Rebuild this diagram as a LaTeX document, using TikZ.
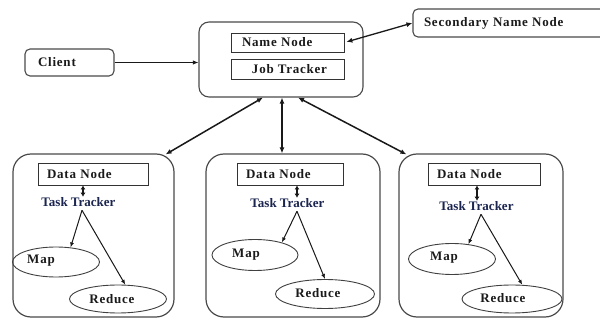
\documentclass[tikz,border=0pt]{standalone}
\usepackage{fontspec}
\setmainfont{Liberation Serif}
\newfontfamily\lblfont[LetterSpace=6]{Liberation Serif}
\usetikzlibrary{shapes.geometric,arrows.meta,calc}
\definecolor{txt}{HTML}{1A1A1A}
\definecolor{navy}{HTML}{1B2550}
\definecolor{edge}{HTML}{4A4A4A}
\begin{document}
\begin{tikzpicture}[x=1pt,y=-1pt,
  font={\lblfont\bfseries\fontsize{13pt}{15pt}\selectfont},
  text=txt,
  outerbox/.style={draw=edge, line width=1.1pt, rounded corners=10pt},
  smallbox/.style={draw=edge, line width=1.1pt, rounded corners=5pt, align=left, inner ysep=0pt},
  bigbox/.style={draw=edge, line width=1.2pt, rounded corners=18pt, minimum height=163pt},
  inbox/.style={draw=black!80, line width=0.9pt, inner ysep=0pt},
  ell/.style={ellipse, draw=black!75, line width=0.9pt, inner sep=0pt},
  tracker/.style={text=navy, inner sep=0.5pt, font={\rmfamily\bfseries\fontsize{13pt}{15pt}\selectfont}},
  bigarr/.style={{Latex[length=6pt,width=5pt]}-{Latex[length=6pt,width=5pt]}, line width=1.5pt, draw=black!90},
  onearr/.style={-{Latex[length=5.5pt,width=4.5pt]}, line width=1.4pt, draw=black!90},
  smallarr/.style={-{Latex[length=5pt,width=4pt]}, line width=1pt, draw=black!90},
  dblsmall/.style={{Latex[length=4pt,width=5pt]}-{Latex[length=4pt,width=5pt]}, line width=1.2pt, draw=black!90}
]
\fill[white] (0,0) rectangle (600,320);
\useasboundingbox (0,0) rectangle (600,320);

% top part
\node[outerbox, minimum width=164pt, minimum height=75pt] (main) at (281,59.5) {};
\node[inbox, minimum width=113pt, minimum height=19pt, text width=91pt, inner xsep=11pt, align=left] (nn) at (287.5,42.5) {Name Node};
\node[inbox, minimum width=113pt, minimum height=20pt, inner xsep=0pt] (jt) at (287.5,69) {\hspace*{4pt}Job Tracker};
\node[smallbox, text width=63pt, inner xsep=13pt, minimum height=27pt] (client) at (69.5,62.5) {Client};
\node[smallbox, text width=185pt, inner xsep=11pt, minimum height=28pt] (sec) at (516.5,23) {Secondary Name Node};

\draw[onearr] (client.east) -- (client.east -| main.west);
\draw[bigarr, line width=1.3pt, shorten <=2pt] (nn.east) -- (sec.west);

% bottom boxes
\node[bigbox, minimum width=161pt] (lb) at (93.5,235.5) {};
\node[bigbox, minimum width=174pt] (mb) at (293,235.5) {};
\node[bigbox, minimum width=164pt] (rb) at (481,235.5) {};

\coordinate (m1) at ($(main.south)+(-18,0)$);
\coordinate (e1) at ($(lb.north east)+(-9,1)$);
\coordinate (m2) at ($(main.south)+(1,0)$);
\coordinate (m3) at ($(main.south)+(17,0)$);
\coordinate (e3) at ($(rb.north west)+(8,1)$);
\draw[bigarr] (m1) -- (e1);
\draw[bigarr] (m2) -- (m2 |- mb.north);
\draw[bigarr] (m3) -- (e3);

% data nodes
\node[inbox, minimum width=110pt, minimum height=22pt, text width=92pt, inner xsep=9pt, align=left] (dn1) at (93,174) {Data Node};
\node[inbox, minimum width=106pt, minimum height=22pt, text width=88pt, inner xsep=9pt, align=left] (dn2) at (290,174) {Data Node};
\node[inbox, minimum width=112pt, minimum height=22pt, text width=94pt, inner xsep=9pt, align=left] (dn3) at (484,174) {Data Node};

% task trackers
\node[tracker] (tt1) at (78.5,202) {Task Tracker};
\node[tracker] (tt2) at (287.5,203) {Task Tracker};
\node[tracker] (tt3) at (476.5,206) {Task Tracker};

\coordinate (a1) at ($(tt1.north)+(4.5,0)$);
\coordinate (a2) at ($(tt2.north)+(9.5,0)$);
\coordinate (a3) at ($(tt3.north)+(0.5,0)$);
\draw[dblsmall] (a1 |- dn1.south) -- (a1);
\draw[dblsmall] (a2 |- dn2.south) -- (a2);
\draw[dblsmall] (a3 |- dn3.south) -- (a3);

% map and reduce
\node[ell, minimum width=87pt, minimum height=30pt, label={[xshift=-15pt,yshift=1pt]center:Map}] (map1) at (56,262) {};
\node[ell, minimum width=86pt, minimum height=31pt, label={[xshift=-9pt]center:Map}] (map2) at (255,255) {};
\node[ell, minimum width=87pt, minimum height=31pt, label={[xshift=-8pt,yshift=1pt]center:Map}] (map3) at (452,259) {};
\node[ell, minimum width=97pt, minimum height=28pt, label={[xshift=-6pt]center:Reduce}] (red1) at (118,299) {};
\node[ell, minimum width=99pt, minimum height=29pt, label={[xshift=-7pt,yshift=1pt]center:Reduce}] (red2) at (325,294) {};
\node[ell, minimum width=100pt, minimum height=28pt, label={[xshift=-9pt,yshift=1pt]center:Reduce}] (red3) at (512,299) {};

\coordinate (o1) at ($(tt1.south)+(3.5,3)$);
\coordinate (o2) at ($(tt2.south)+(9.5,3)$);
\coordinate (o3) at ($(tt3.south)+(4.5,3)$);
\draw[smallarr] (o1) -- (map1.45);
\draw[smallarr] (o1) -- (red1.63);
\draw[smallarr] (o2) -- (map2.25);
\draw[smallarr] (o2) -- (red2.north);
\draw[smallarr] (o3) -- (map3.42);
\draw[smallarr] (o3) -- (red3.54);
\end{tikzpicture}
\end{document}
